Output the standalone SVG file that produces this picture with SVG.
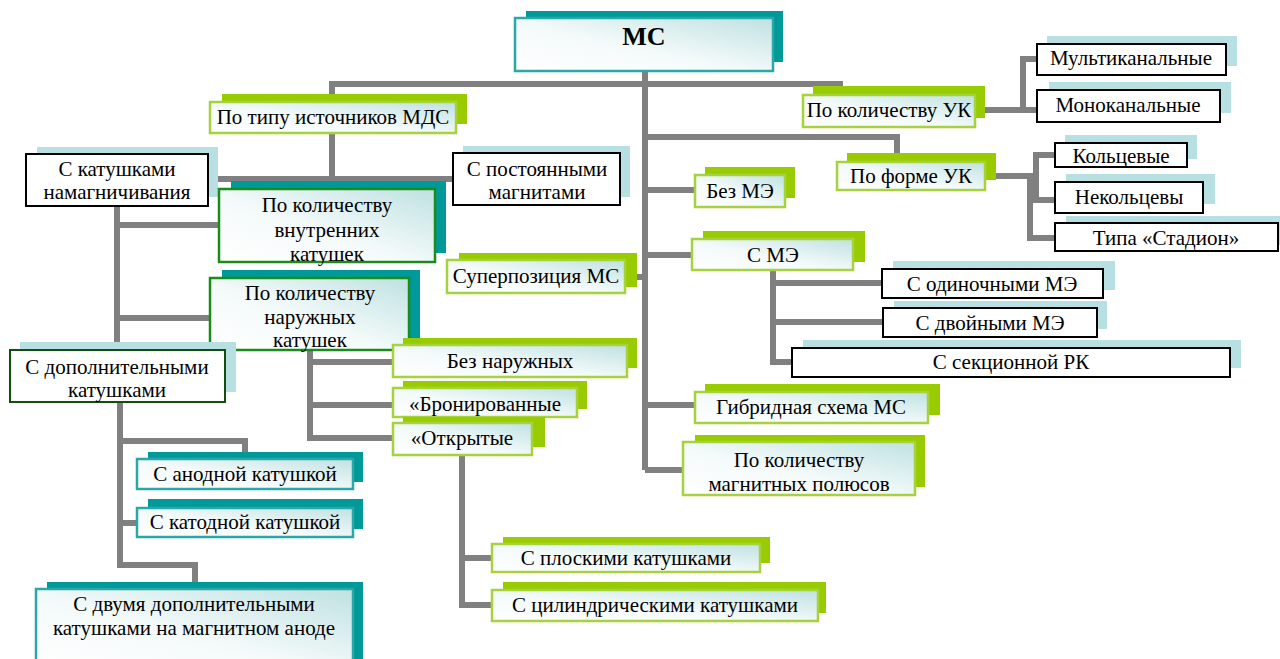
<svg xmlns="http://www.w3.org/2000/svg" width="1280" height="659" viewBox="0 0 1280 659">
<defs>
<linearGradient id="gf" x1="0" y1="1" x2="1" y2="0">
<stop offset="0" stop-color="#ffffff"/>
<stop offset="0.45" stop-color="#f4fafa"/>
<stop offset="1" stop-color="#bfe1e2"/>
</linearGradient>
<style>
.c{fill:none;stroke:#808080;stroke-width:6;stroke-linejoin:miter;stroke-linecap:butt}
.sg{fill:#99cc00}
.st{fill:#009999}
.sb{fill:#b8dfe1}
.bg{fill:url(#gf);stroke:#a6d23c;stroke-width:2.5}
.bt{fill:url(#gf);stroke:#2aa8a8;stroke-width:2.5}
.bk{fill:#ffffff;stroke:#000000;stroke-width:2}
.bd{fill:url(#gf);stroke:#1a8c1a;stroke-width:2.5}
.bdd{fill:#ffffff;stroke:#124d12;stroke-width:2}
text{font-family:'Liberation Serif','Times New Roman',serif;font-size:21px;fill:#000;text-anchor:middle}
.big{font-size:26px;font-weight:bold}
</style>
</defs>
<g id="connectors">
<path class="c" d="M645,71 V470"/>
<path class="c" d="M332,102 V84 H840 V93"/>
<path class="c" d="M332,133 V179 M218,179 H453"/>
<path class="c" d="M985,110 H1023 V59 H1037 M1023,110 H1037"/>
<path class="c" d="M645,137 H897 V153"/>
<path class="c" d="M996,176 H1030 V238 H1055 M1036,176 V155 H1055 M1036,176 V200 H1055"/>
<path class="c" d="M117,206 V350 M117,225 H219 M117,318 H210"/>
<path class="c" d="M120,402 V565 H195 V582 M120,441 H245 V452 M120,523 H137"/>
<path class="c" d="M310,350 V438 H393 M310,362 H393 M310,405 H393"/>
<path class="c" d="M645,190 H695 M645,255 H692 M625,277 H645 M645,405 H695 M645,470 H683"/>
<path class="c" d="M773,270 V362 H792 M773,283 H882 M773,322 H883"/>
<path class="c" d="M462,455 V605 H492 M462,558 H492"/>
</g>
<g id="n-ms">
<rect class="st" x="526" y="11" width="257" height="51"/>
<rect class="bt" x="515" y="18" width="258" height="53"/>
<text class="big" x="644" y="45">МС</text>
</g>
<g id="n-tip">
<rect class="sg" x="222" y="94" width="245" height="30"/>
<rect class="bg" x="210" y="102" width="246" height="31"/>
<text x="333" y="124">По типу источников МДС</text>
</g>
<g id="n-kolUK">
<rect class="sg" x="813" y="86" width="172" height="32"/>
<rect class="bg" x="803" y="95" width="172" height="32"/>
<text x="889" y="117">По количеству УК</text>
</g>
<g id="n-multi">
<rect class="sb" x="1047" y="36" width="190" height="30"/>
<rect class="bk" x="1037" y="44" width="189" height="31"/>
<text x="1131" y="65">Мультиканальные</text>
</g>
<g id="n-mono">
<rect class="sb" x="1049" y="82" width="182" height="31"/>
<rect class="bk" x="1037" y="90" width="183" height="32"/>
<text x="1128" y="112">Моноканальные</text>
</g>
<g id="n-formUK">
<rect class="sg" x="847" y="153" width="149" height="27"/>
<rect class="bg" x="837" y="162" width="148" height="28"/>
<text x="911" y="183">По форме УК</text>
</g>
<g id="n-kolc">
<rect class="sb" x="1065" y="135" width="132" height="24"/>
<rect class="bk" x="1055" y="143" width="132" height="24"/>
<text x="1121" y="163">Кольцевые</text>
</g>
<g id="n-nekolc">
<rect class="sb" x="1066" y="174" width="149" height="30"/>
<rect class="bk" x="1055" y="182" width="148" height="31"/>
<text x="1129" y="204">Некольцевы</text>
</g>
<g id="n-stadion">
<rect class="sb" x="1066" y="216" width="214" height="29"/>
<rect class="bk" x="1055" y="223" width="223" height="28"/>
<text x="1166" y="245">Типа «Стадион»</text>
</g>
<g id="n-katnam">
<rect class="sb" x="37" y="147" width="181" height="50"/>
<rect class="bk" x="26" y="154" width="182" height="52"/>
<text x="117" y="176">С катушками</text>
<text x="117" y="199">намагничивания</text>
</g>
<g id="n-postmag">
<rect class="sb" x="463" y="146" width="167" height="51"/>
<rect class="bk" x="453" y="153" width="167" height="52"/>
<text x="537" y="176">С постоянными</text>
<text x="537" y="199">магнитами</text>
</g>
<g id="n-vnutr">
<rect class="st" x="231" y="181" width="215" height="72"/>
<rect class="bd" x="219" y="189" width="216" height="73"/>
<text x="327" y="212">По количеству</text>
<text x="327" y="237">внутренних</text>
<text x="327" y="261">катушек</text>
</g>
<g id="n-bezme">
<rect class="sg" x="705" y="167" width="90" height="31"/>
<rect class="bg" x="695" y="175" width="90" height="32"/>
<text x="740" y="198">Без МЭ</text>
</g>
<g id="n-sme">
<rect class="sg" x="703" y="231" width="162" height="31"/>
<rect class="bg" x="692" y="239" width="161" height="31"/>
<text x="773" y="262">С МЭ</text>
</g>
<g id="n-superp">
<rect class="sg" x="459" y="253" width="178" height="34"/>
<rect class="bg" x="447" y="260" width="178" height="33"/>
<text x="536" y="283">Суперпозиция МС</text>
</g>
<g id="n-odin">
<rect class="sb" x="893" y="261" width="222" height="29"/>
<rect class="bk" x="882" y="269" width="221" height="29"/>
<text x="992" y="291">С одиночными МЭ</text>
</g>
<g id="n-dvoin">
<rect class="sb" x="894" y="301" width="213" height="28"/>
<rect class="bk" x="883" y="308" width="214" height="29"/>
<text x="990" y="330">С двойными МЭ</text>
</g>
<g id="n-sekc">
<rect class="sb" x="803" y="340" width="438" height="28"/>
<rect class="bk" x="792" y="348" width="438" height="29"/>
<text x="1011" y="369">С секционной РК</text>
</g>
<g id="n-naruzh">
<rect class="st" x="222" y="270" width="198" height="70"/>
<rect class="bd" x="210" y="278" width="199" height="72"/>
<text x="310" y="300">По количеству</text>
<text x="310" y="324">наружных</text>
<text x="310" y="347">катушек</text>
</g>
<g id="n-dopkat">
<rect class="sb" x="20" y="342" width="216" height="50"/>
<rect class="bdd" x="10" y="350" width="215" height="52"/>
<text x="117" y="374">С дополнительными</text>
<text x="117" y="397">катушками</text>
</g>
<g id="n-beznar">
<rect class="sg" x="403" y="338" width="234" height="30"/>
<rect class="bg" x="393" y="345" width="234" height="32"/>
<text x="510" y="368">Без наружных</text>
</g>
<g id="n-bron">
<rect class="sg" x="403" y="381" width="184" height="28"/>
<rect class="bg" x="393" y="388" width="184" height="29"/>
<text x="485" y="411">«Бронированные</text>
</g>
<g id="n-otkr">
<rect class="sg" x="403" y="417" width="142" height="30"/>
<rect class="bg" x="393" y="423" width="139" height="32"/>
<text x="462" y="445">«Открытые</text>
</g>
<g id="n-gibr">
<rect class="sg" x="705" y="384" width="235" height="31"/>
<rect class="bg" x="695" y="392" width="233" height="31"/>
<text x="811" y="414">Гибридная схема МС</text>
</g>
<g id="n-polus">
<rect class="sg" x="695" y="435" width="230" height="52"/>
<rect class="bg" x="683" y="442" width="232" height="53"/>
<text x="799" y="467">По количеству</text>
<text x="799" y="491">магнитных полюсов</text>
</g>
<g id="n-anod">
<rect class="st" x="148" y="452" width="215" height="30"/>
<rect class="bt" x="137" y="459" width="216" height="30"/>
<text x="245" y="481">С анодной катушкой</text>
</g>
<g id="n-katod">
<rect class="st" x="148" y="499" width="215" height="30"/>
<rect class="bt" x="137" y="508" width="216" height="29"/>
<text x="245" y="529">С катодной катушкой</text>
</g>
<g id="n-dvuma">
<rect class="st" x="47" y="582" width="316" height="80"/>
<rect class="bt" x="36" y="589" width="317" height="80"/>
<text x="194" y="611">С двумя дополнительными</text>
<text x="194" y="635">катушками на магнитном аноде</text>
</g>
<g id="n-plosk">
<rect class="sg" x="503" y="537" width="267" height="26"/>
<rect class="bg" x="492" y="544" width="268" height="28"/>
<text x="626" y="565">С плоскими катушками</text>
</g>
<g id="n-cilindr">
<rect class="sg" x="503" y="582" width="323" height="31"/>
<rect class="bg" x="492" y="590" width="326" height="31"/>
<text x="655" y="612">С цилиндрическими катушками</text>
</g>
</svg>
